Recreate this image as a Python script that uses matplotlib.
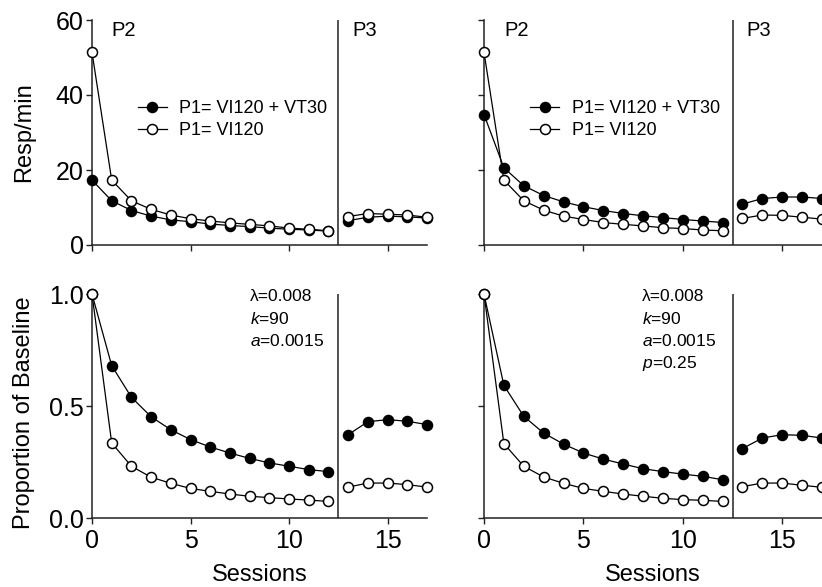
import matplotlib
matplotlib.use("Agg")
import matplotlib.pyplot as plt
import numpy as np

plt.rcParams['font.family'] = ['Liberation Sans', 'DejaVu Sans']
plt.rcParams['mathtext.fontset'] = 'custom'
plt.rcParams['mathtext.it'] = 'Liberation Sans:italic'
plt.rcParams['mathtext.rm'] = 'Liberation Sans'

sessions_p2 = [0, 1, 2, 3, 4, 5, 6, 7, 8, 9, 10, 11, 12]
sessions_p3 = [13, 14, 15, 16, 17]

# Top-left: Resp/min
tl_filled_p2 = [17.3, 11.8, 9.2, 7.7, 6.7, 6.2, 5.6, 5.2, 4.9, 4.5, 4.2, 4.0, 3.7]
tl_open_p2 = [51.4, 17.3, 11.8, 9.5, 8.0, 7.0, 6.4, 5.9, 5.5, 5.1, 4.5, 4.2, 3.8]
tl_filled_p3 = [6.5, 7.4, 7.7, 7.5, 7.2]
tl_open_p3 = [7.6, 8.4, 8.2, 8.0, 7.4]

# Top-right: Resp/min
tr_filled_p2 = [34.8, 20.6, 15.8, 13.2, 11.5, 10.2, 9.2, 8.4, 7.8, 7.3, 6.8, 6.4, 6.0]
tr_open_p2 = [51.4, 17.3, 11.8, 9.3, 7.7, 6.8, 6.0, 5.5, 5.1, 4.6, 4.4, 4.0, 3.8]
tr_filled_p3 = [10.9, 12.4, 12.8, 12.8, 12.4]
tr_open_p3 = [7.1, 8.0, 7.9, 7.4, 6.9]

# Bottom-left: Proportion of baseline
bl_filled_p2 = [1.0, 0.680, 0.539, 0.452, 0.394, 0.350, 0.317, 0.290, 0.266, 0.246, 0.231, 0.216, 0.207]
bl_open_p2 = [1.0, 0.335, 0.231, 0.182, 0.155, 0.132, 0.119, 0.107, 0.097, 0.091, 0.085, 0.080, 0.074]
bl_filled_p3 = [0.372, 0.430, 0.439, 0.432, 0.417]
bl_open_p3 = [0.138, 0.156, 0.156, 0.149, 0.138]

# Bottom-right: Proportion of baseline
br_filled_p2 = [1.0, 0.592, 0.454, 0.379, 0.330, 0.290, 0.263, 0.241, 0.220, 0.207, 0.196, 0.186, 0.171]
br_open_p2 = [1.0, 0.332, 0.231, 0.183, 0.155, 0.132, 0.119, 0.107, 0.097, 0.088, 0.082, 0.079, 0.074]
br_filled_p3 = [0.310, 0.357, 0.372, 0.369, 0.357]
br_open_p3 = [0.140, 0.156, 0.156, 0.146, 0.137]

legend_labels = ["P1= VI120 + VT30", "P1= VI120"]
left_params = ["\u03bb=0.008", "$k$=90", "$a$=0.0015"]
right_params = ["\u03bb=0.008", "$k$=90", "$a$=0.0015", "$p$=0.25"]

W, H = 822, 587
fig = plt.figure(figsize=(W / 100, H / 100), dpi=100)

def px_axes(x0, y_top, w, h):
    return fig.add_axes([x0 / W, (H - y_top - h) / H, w / W, h / H])

ax_tl = px_axes(92, 20, 335, 225)
ax_tr = px_axes(484, 20, 338, 225)
ax_bl = px_axes(92, 294, 335, 224)
ax_br = px_axes(484, 294, 338, 224)

spine_c = '#222222'
ms = 7.2

def draw(ax, fp2, op2, fp3, op3):
    kw = dict(color='black', lw=0.9, markersize=ms, markeredgewidth=1.1, clip_on=False, zorder=3)
    l1, = ax.plot(sessions_p2, fp2, marker='o', markerfacecolor='black', markeredgecolor='black', **kw)
    l2, = ax.plot(sessions_p2, op2, marker='o', markerfacecolor='white', markeredgecolor='black', **kw)
    ax.plot(sessions_p3, fp3, marker='o', markerfacecolor='black', markeredgecolor='black', **kw)
    ax.plot(sessions_p3, op3, marker='o', markerfacecolor='white', markeredgecolor='black', **kw)
    ax.axvline(12.5, color=spine_c, lw=1.1, zorder=2)
    ax.set_xlim(0, 17)
    for s in ['top', 'right']:
        ax.spines[s].set_visible(False)
    for s in ['left', 'bottom']:
        ax.spines[s].set_color(spine_c)
        ax.spines[s].set_linewidth(1.1)
    ax.set_xticks([0, 5, 10, 15])
    ax.tick_params(direction='out', length=4, width=1.0, color=spine_c, labelsize=18, pad=2)
    ax.tick_params(axis='x', pad=4)
    return l1, l2

h1, h2 = draw(ax_tl, tl_filled_p2, tl_open_p2, tl_filled_p3, tl_open_p3)
draw(ax_tr, tr_filled_p2, tr_open_p2, tr_filled_p3, tr_open_p3)
draw(ax_bl, bl_filled_p2, bl_open_p2, bl_filled_p3, bl_open_p3)
draw(ax_br, br_filled_p2, br_open_p2, br_filled_p3, br_open_p3)

for ax in (ax_tl, ax_tr):
    ax.set_ylim(0, 60)
    ax.set_yticks([0, 20, 40, 60])
    ax.set_xticklabels([])
    ax.text(1.0, 57.3, "P2", fontsize=14.5, va='center', ha='left')
    ax.text(13.2, 57.3, "P3", fontsize=14.5, va='center', ha='left')
    ax.legend([h1, h2], legend_labels, loc='center left', bbox_to_anchor=(0.115, 0.557),
              frameon=False, fontsize=13, handlelength=1.6, handletextpad=0.7,
              labelspacing=0.3, borderaxespad=0)

for ax in (ax_bl, ax_br):
    ax.set_ylim(0, 1.0)
    ax.set_yticks([0, 0.5, 1.0])
    ax.set_xticklabels(['0', '5', '10', '15'])
    ax.set_xlabel("Sessions", fontsize=17, labelpad=8)

ax_tl.set_yticklabels(['0', '20', '40', '60'])
ax_tr.set_yticklabels([])
ax_bl.set_yticklabels(['0.0', '0.5', '1.0'])
ax_br.set_yticklabels([])

ax_tl.set_ylabel("Resp/min", fontsize=17)
ax_tl.yaxis.set_label_coords(-0.17, 0.5)
ax_bl.set_ylabel("Proportion of Baseline", fontsize=17)
ax_bl.yaxis.set_label_coords(-0.17, 0.47)

def params(ax, lines, x):
    for i, t in enumerate(lines):
        ax.text(x, 0.99 - i * 0.1, t, fontsize=12.5, va='center', ha='left')

params(ax_bl, left_params, 8.0)
params(ax_br, right_params, 7.95)

fig.savefig("out.png", dpi=100)
